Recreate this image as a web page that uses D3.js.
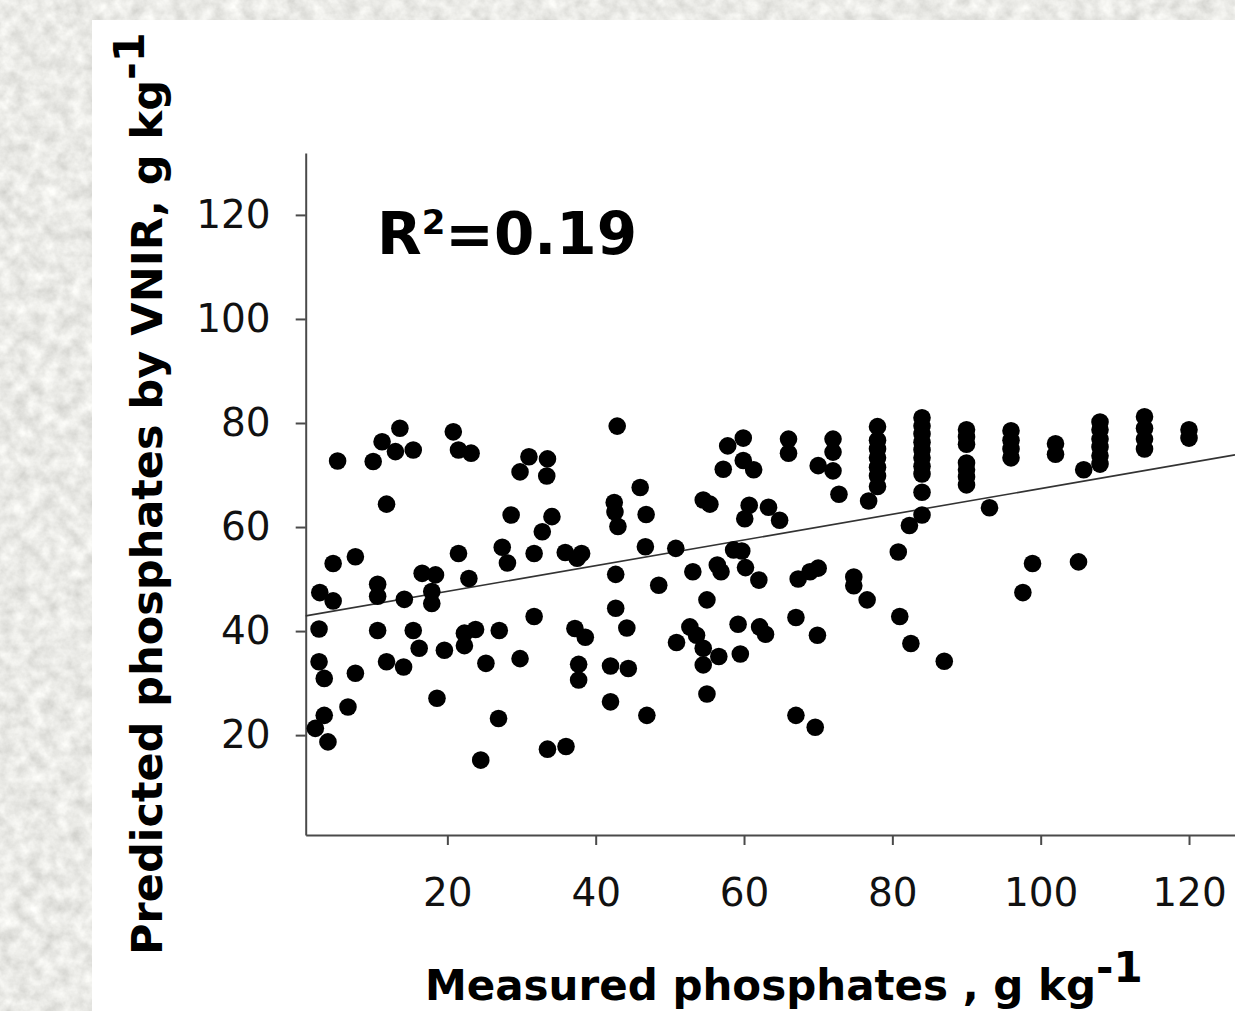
<!DOCTYPE html>
<html>
<head>
<meta charset="utf-8">
<script src="https://cdn.jsdelivr.net/npm/d3@7/dist/d3.min.js"></script>
<style>
  html, body { margin: 0; padding: 0; background: #fff; }
  svg { display: block; }
</style>
</head>
<body>
<svg id="chart" width="1235" height="1011"></svg>
<script>
// ---- data ----
const measured = [
  5.2, 10.0, 11.2, 13.6, 13.0, 15.4, 11.8, 20.8, 21.5, 23.2,
  31.0, 33.5, 29.8, 33.4, 28.6, 34.1, 32.8, 42.9, 42.5, 42.6,
  43.0, 4.6, 7.6, 2.8, 4.6, 10.6, 10.6, 14.2, 16.6, 18.4,
  17.9, 17.9, 21.5, 22.9, 27.4, 28.1, 31.7, 35.9, 38.1, 37.5,
  42.7, 42.7, 2.7, 10.6, 15.4, 16.2, 19.6, 22.3, 23.8, 22.3,
  27.0, 31.7, 37.2, 38.6, 2.7, 3.4, 7.6, 11.8, 14.1, 25.2,
  29.8, 37.7, 37.7, 42.0, 42.0, 3.4, 6.6, 18.6, 2.2, 3.9,
  26.9, 24.5, 33.5, 36.0,
  44.2, 44.4, 46.9, 46.0, 46.8, 46.7, 50.8, 48.5,
  57.8, 59.9, 57.2, 59.9, 61.3, 66.0, 66.0, 72.0, 72.0, 70.0,
  72.0, 72.8, 54.5, 55.4, 60.7, 63.3, 60.1, 64.8,
  58.6, 59.7, 53.1, 56.4, 56.9, 60.2, 62.0, 67.3, 68.9, 70.0,
  74.8, 74.8, 76.6, 55.0, 67.0, 52.7, 53.6, 50.9, 59.2, 62.1,
  62.9, 54.5, 56.6, 54.5, 59.5, 69.9, 55.0, 67.0, 69.6,
  80.8, 81.0, 76.8,
  78, 78, 78, 78, 78, 78, 78,
  84, 84, 84, 84, 84, 84, 84, 84, 84, 84,
  82.3, 82.5, 87.0,
  90, 90, 90, 90, 90, 90, 90,
  93.1,
  96, 96, 96, 96,
  102, 102,
  105.8,
  108, 108, 108, 108, 108, 108,
  114, 114, 114, 114,
  120, 120,
  98.9, 97.6, 105.1
];
const predicted = [
  72.7, 72.6, 76.4, 79.0, 74.5, 74.8, 64.4, 78.3, 74.8, 74.2,
  73.5, 73.1, 70.6, 69.8, 62.3, 62.0, 59.1, 79.4, 64.7, 62.9,
  60.1, 53.0, 54.3, 47.4, 45.8, 49.0, 46.7, 46.1, 51.1, 50.8,
  47.6, 45.3, 54.9, 50.1, 56.1, 53.1, 54.9, 55.1, 54.9, 54.0,
  50.9, 44.4, 40.4, 40.1, 40.1, 36.7, 36.3, 39.6, 40.3, 37.2,
  40.1, 42.8, 40.5, 38.8, 34.1, 30.9, 31.9, 34.1, 33.1, 33.8,
  34.7, 33.6, 30.6, 33.3, 26.4, 23.8, 25.4, 27.1, 21.3, 18.7,
  23.2, 15.2, 17.3, 17.8,
  40.6, 32.8, 23.8, 67.6, 62.4, 56.2, 55.9, 48.8,
  75.6, 77.1, 71.1, 72.8, 71.0, 76.9, 74.2, 76.9, 74.4, 71.8,
  70.8, 66.3, 65.2, 64.4, 64.2, 63.8, 61.6, 61.3,
  55.6, 55.4, 51.4, 52.7, 51.4, 52.2, 49.8, 50.0, 51.4, 52.1,
  50.4, 48.7, 46.0, 46.0, 42.6, 40.8, 39.2, 37.8, 41.3, 40.8,
  39.4, 36.7, 35.1, 33.5, 35.6, 39.2, 27.9, 23.8, 21.5,
  55.2, 42.8, 65.0,
  79.3, 76.7, 75.0, 73.3, 71.5, 69.8, 67.8,
  81.0, 79.4, 77.9, 76.3, 74.8, 73.3, 71.7, 70.2, 66.7, 62.3,
  60.3, 37.6, 34.2,
  78.7, 77.3, 75.9, 72.3, 71.0, 69.6, 68.1,
  63.7,
  78.5, 76.7, 75.0, 73.3,
  76.0, 74.0,
  71.0,
  80.2, 78.7, 76.9, 75.4, 73.7, 72.1,
  81.2, 79.0, 76.9, 75.0,
  78.7, 77.1,
  53.0, 47.4, 53.3
];
const xTicks = [20, 40, 60, 80, 100, 120];
const yTicks = [20, 40, 60, 80, 100, 120];
const xDomain = [0.9, 126.2];
const yDomain = [0.8, 131.9];
const fitSlope = 0.247;
const fitIntercept = 42.7;
const r2Text = "0.19";
const xTitle = "Measured phosphates , g kg";
const yTitle = "Predicted phosphates by VNIR, g kg";
const unitSup = "-1";

// ---- drawing ----
const svg = d3.select("#chart");
const W = 1235, H = 1011;

// textured background strips
const defs = svg.append("defs");
const f = defs.append("filter").attr("id", "tex")
  .attr("x", 0).attr("y", 0).attr("width", 1).attr("height", 1)
  .attr("filterUnits", "objectBoundingBox");
f.append("feTurbulence").attr("type", "fractalNoise")
  .attr("baseFrequency", "0.07").attr("numOctaves", 4).attr("seed", 7).attr("result", "n");
f.append("feColorMatrix").attr("in", "n").attr("type", "matrix")
  .attr("values", "0.45 0 0 0 0.6  0.45 0 0 0 0.6  0.45 0 0 0 0.57  0 0 0 0 1");

svg.append("rect").attr("x", 0).attr("y", 0).attr("width", W).attr("height", H).attr("fill", "#fff");
svg.append("rect").attr("x", 0).attr("y", 0).attr("width", 92).attr("height", H)
  .attr("fill", "#d6d5cf").attr("filter", "url(#tex)");
svg.append("rect").attr("x", 0).attr("y", 0).attr("width", W).attr("height", 20)
  .attr("fill", "#d6d5cf").attr("filter", "url(#tex)");

const x = d3.scaleLinear().domain(xDomain).range([305.7, 1235]);
const y = d3.scaleLinear().domain(yDomain).range([835, 153]);

const font = "'DejaVu Sans', Verdana, sans-serif";

// axes
const xAxis = d3.axisBottom(x).tickValues(xTicks).tickSize(10).tickSizeOuter(0).tickPadding(33);
const gx = svg.append("g").attr("transform", "translate(0,835)").call(xAxis);
gx.select(".domain").attr("stroke", "#4a4a4a").attr("stroke-width", 2);
gx.selectAll(".tick line").attr("stroke", "#4a4a4a").attr("stroke-width", 2);
gx.selectAll(".tick text").attr("font-family", font).attr("font-size", 39)
  .attr("fill", "#111").attr("dy", "0.71em");

const yAxis = d3.axisLeft(y).tickValues(yTicks).tickSize(10).tickSizeOuter(0).tickPadding(25);
const gy = svg.append("g").attr("transform", "translate(305.7,0)").call(yAxis);
gy.select(".domain").attr("stroke", "#4a4a4a").attr("stroke-width", 2);
gy.selectAll(".tick line").attr("stroke", "#4a4a4a").attr("stroke-width", 2);
gy.selectAll(".tick text").attr("font-family", font).attr("font-size", 39)
  .attr("fill", "#111");

// regression line
const fitLine = d3.line().x(d => x(d)).y(d => y(fitSlope * d + fitIntercept));
svg.append("path").datum(xDomain).attr("d", fitLine)
  .attr("fill", "none").attr("stroke", "#333").attr("stroke-width", 1.6);

// points
const pts = measured.map((m, i) => ({ m, p: predicted[i] }));
svg.append("g").selectAll("circle").data(pts).join("circle")
  .attr("cx", d => x(d.m)).attr("cy", d => y(d.p)).attr("r", 8.8)
  .attr("fill", "#000");

// R^2 annotation
const r2 = svg.append("text").attr("x", 377).attr("y", 254)
  .attr("font-family", font).attr("font-weight", "bold").attr("font-size", 58).attr("fill", "#000");
r2.append("tspan").text("R");
r2.append("tspan").attr("font-size", 34).attr("dy", -20).text("2");
r2.append("tspan").attr("dy", 20).text("=" + r2Text);

// x title
const xt = svg.append("text").attr("x", 425).attr("y", 1000)
  .attr("font-family", font).attr("font-weight", "bold").attr("font-size", 42).attr("fill", "#000");
xt.append("tspan").text(xTitle);
xt.append("tspan").attr("dy", -18).text(unitSup);

// y title
const yt = svg.append("text").attr("transform", "translate(162,955) rotate(-90)")
  .attr("font-family", font).attr("font-weight", "bold").attr("font-size", 43).attr("fill", "#000");
yt.append("tspan").text(yTitle);
yt.append("tspan").attr("dy", -18).text(unitSup);
</script>
</body>
</html>
